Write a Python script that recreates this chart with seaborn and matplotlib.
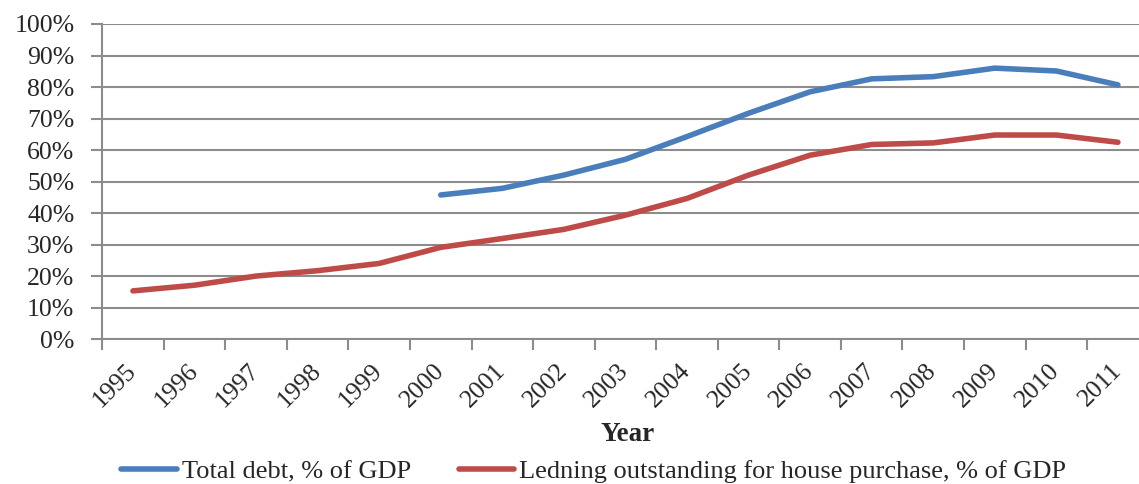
import numpy as np
import pandas as pd
import matplotlib
matplotlib.use("Agg")
import matplotlib.pyplot as plt
import seaborn as sns

years = [str(y) for y in range(1995, 2012)]
total_debt = [np.nan, np.nan, np.nan, np.nan, np.nan,
              45.8, 47.9, 52.1, 57.1, 64.3, 71.7, 78.5, 82.6, 83.3, 86.0, 85.1, 80.7]
house_lending = [15.4, 17.2, 20.1, 21.8, 24.1,
                 29.2, 32.0, 34.9, 39.4, 44.7, 52.1, 58.4, 61.8, 62.3, 64.8, 64.8, 62.5]
series_names = ["Total debt, % of GDP",
                "Ledning outstanding for house purchase, % of GDP"]
y_ticks = list(range(0, 101, 10))

df = pd.DataFrame({
    "pos": list(range(len(years))) * 2,
    "value": total_debt + house_lending,
    "series": [series_names[0]] * len(years) + [series_names[1]] * len(years),
})

sns.set_theme(style="white")
plt.rcParams["font.family"] = ["Liberation Serif", "DejaVu Serif"]

GRID = "#8c8c8c"
colors = {series_names[0]: "#4a7ebb", series_names[1]: "#be4b48"}

fig = plt.figure(figsize=(11.39, 4.84), dpi=100)
ax = fig.add_axes([0.0897, 0.2986, 0.9188, 0.6519])

sns.lineplot(data=df.dropna(), x="pos", y="value", hue="series",
             palette=colors, linewidth=4.0, ax=ax, legend=False,
             solid_capstyle="round")

ax.set_xlim(-0.5, len(years) - 0.5)
ax.set_ylim(0, 100)
ax.set_yticks(y_ticks)
ax.set_yticklabels([f"{v}%" for v in y_ticks], fontsize=18.5)
ax.set_xticks(np.arange(-0.5, len(years), 1.0))
ax.set_xticklabels([])
ax.set_xticks(range(len(years)), minor=True)
ax.set_xticklabels(years, minor=True, fontsize=18.5, rotation=45,
                   ha="right", va="center", rotation_mode="anchor")
ax.tick_params(axis="x", which="minor", length=0, pad=20)
ax.tick_params(axis="x", which="major", length=8, width=1.5, color=GRID,
               direction="out")
ax.tick_params(axis="y", length=8, width=1.5, color=GRID, direction="out", pad=12)
ax.xaxis.set_ticks_position("bottom")
ax.yaxis.set_ticks_position("left")

ax.yaxis.grid(True, color=GRID, linewidth=1.5)
ax.set_axisbelow(True)
for s in ["top", "right"]:
    ax.spines[s].set_visible(False)
for s in ["left", "bottom"]:
    ax.spines[s].set_color(GRID)
    ax.spines[s].set_linewidth(1.5)

ax.set_xlabel("")
ax.set_ylabel("")
fig.text(0.551, 0.102, "Year", fontsize=19.5, fontweight="bold",
         ha="center", va="center")

handles = [plt.Line2D([], [], color=colors[n], linewidth=4.0,
                      solid_capstyle="round") for n in series_names]
fig.legend(handles, series_names, loc="center", bbox_to_anchor=(0.5215, 0.026),
           ncol=2, frameon=False, fontsize=19, handlelength=2.1,
           handletextpad=0.2, columnspacing=1.8)

fig.savefig("out.png", dpi=100)
